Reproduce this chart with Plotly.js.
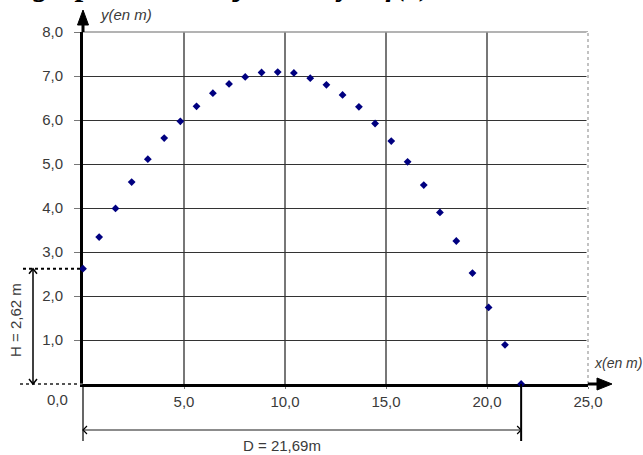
<!DOCTYPE html>
<html>
<head>
<meta charset="utf-8">
<script src="https://cdn.plot.ly/plotly-3.0.1.min.js"></script>
<style>html,body{margin:0;padding:0;background:#fff;}#chart{width:643px;height:455px;}</style>
</head>
<body>
<div id="chart"></div>
<script>
// Data
var xPos = [0, 0.80, 1.61, 2.41, 3.21, 4.02, 4.82, 5.62, 6.43, 7.23, 8.03, 8.84, 9.64, 10.44,
            11.25, 12.05, 12.85, 13.66, 14.46, 15.26, 16.07, 16.87, 17.67, 18.48, 19.28, 20.08, 20.89, 21.69];
var yPos = [2.62, 3.34, 3.99, 4.59, 5.11, 5.59, 5.97, 6.31, 6.61, 6.82, 6.98, 7.08, 7.09, 7.07,
            6.95, 6.80, 6.57, 6.30, 5.92, 5.52, 5.05, 4.52, 3.90, 3.25, 2.52, 1.74, 0.89, 0];
var xTicks = [5, 10, 15, 20, 25];
var yTicks = [1, 2, 3, 4, 5, 6, 7, 8];
var H = 2.62, D = 21.69;
var xMax = 25, yMax = 8;

// Geometry helpers (plot area: left 83, width 505, top 32, height 352)
var L = 83, W = 505, T = 32, HH = 352;
function PX(p) { return (p - L) / W; }
function PY(p) { return (T + HH - p) / HH; }
function DX(v) { return v / xMax; }
function DY(v) { return v / yMax; }

var hy = DY(H), dx = DX(D);
var shapes = [];
function line(x0, y0, x1, y1, color, width, dash, layer) {
  shapes.push({type: 'line', xref: 'paper', yref: 'paper', x0: x0, y0: y0, x1: x1, y1: y1,
    line: {color: color, width: width, dash: dash || 'solid'}, layer: layer || 'above'});
}
function path(d, color, width, fill) {
  shapes.push({type: 'path', xref: 'paper', yref: 'paper', path: d,
    line: {color: color, width: width}, fillcolor: fill || 'rgba(0,0,0,0)', layer: 'above'});
}
function P(x, y) { return x + ',' + y; }

// top border and right dashed border
line(0, 1, 1, 1, '#9a9a9a', 1.5);
line(1, 0, 1, 1, '#ffffff', 3);
line(1, 0, 1, 1, '#9a9a9a', 1.2, 'dot');

// x-axis extensions and arrow
line(PX(20), 0, 0, 0, '#555', 2, 'dot');
line(1, 0, PX(598), 0, '#000', 3);
path('M' + P(PX(597), PY(378)) + ' L' + P(PX(612), PY(384)) + ' L' + P(PX(597), PY(390)) + ' Z', '#000', 1, '#000');
// y-axis extension and arrow
line(0, 1, 0, PY(24), '#000', 3);
path('M' + P(PX(77.5), PY(25)) + ' L' + P(PX(83), PY(10)) + ' L' + P(PX(88.5), PY(25)) + ' Z', '#000', 1, '#000');

// H dimension
line(PX(23), hy, 0, hy, '#000', 2, 'dot');
line(PX(33), 0, PX(33), hy, '#000', 1.5);
path('M' + P(PX(29), hy - 5 / HH) + ' L' + P(PX(33), hy) + ' L' + P(PX(37), hy - 5 / HH), '#000', 1.5);
path('M' + P(PX(29), 5 / HH) + ' L' + P(PX(33), 0) + ' L' + P(PX(37), 5 / HH), '#000', 1.5);

// D dimension
line(0, PY(384), 0, PY(441), '#000', 1.2);
line(dx, PY(384), dx, PY(441), '#000', 2);
line(0, PY(430), dx, PY(430), '#666', 1.5);
path('M' + P(PX(87), PY(426)) + ' L' + P(0, PY(430)) + ' L' + P(PX(87), PY(434)), '#000', 1.2);
path('M' + P(dx - 4 / W, PY(426)) + ' L' + P(dx, PY(430)) + ' L' + P(dx - 4 / W, PY(434)), '#000', 1.2);

var txtFont = {family: 'Liberation Sans, Arial, sans-serif', size: 15, color: '#3a3a3a'};
var annotations = [
  {text: '<b><i>graphe de la trajectoire y = f(x)</i></b>', xref: 'paper', yref: 'paper',
   x: PX(32), y: PY(3), xanchor: 'left', yanchor: 'bottom', showarrow: false, borderpad: 0,
   font: {family: 'Liberation Serif, Times New Roman, serif', size: 31, color: '#000'}},
  {text: '<i>y(en m)</i>', xref: 'paper', yref: 'paper', x: PX(98), y: PY(14),
   xanchor: 'left', yanchor: 'middle', showarrow: false, font: txtFont},
  {text: '<i>x(en m)</i>', xref: 'paper', yref: 'paper', x: PX(592), y: PY(363),
   xanchor: 'left', yanchor: 'middle', showarrow: false,
   font: {family: txtFont.family, size: 14, color: txtFont.color}},
  {text: 'H = 2,62 m', xref: 'paper', yref: 'paper', x: PX(15), y: PY(320),
   xanchor: 'center', yanchor: 'middle', textangle: -90, showarrow: false, font: txtFont},
  {text: 'D = 21,69m', xref: 'paper', yref: 'paper', x: PX(282), y: PY(445),
   xanchor: 'center', yanchor: 'middle', showarrow: false, font: txtFont},
  {text: '0,0', xref: 'paper', yref: 'paper', x: PX(70), y: PY(399),
   xanchor: 'right', yanchor: 'middle', showarrow: false, font: txtFont}
];

var trace = {
  type: 'scatter', mode: 'markers', x: xPos, y: yPos,
  marker: {symbol: 'diamond', size: 6, color: '#000080'},
  cliponaxis: false, hoverinfo: 'none'
};

var layout = {
  width: 643, height: 455,
  margin: {l: L, r: 643 - L - W, t: T, b: 455 - T - HH, pad: 0},
  paper_bgcolor: '#fff', plot_bgcolor: '#fff',
  separators: ', ',
  showlegend: false,
  font: txtFont,
  xaxis: {range: [0, xMax], tickvals: xTicks, tickformat: '.1f', showgrid: true,
    gridcolor: '#777', gridwidth: 1.5, zeroline: false, showline: true, linecolor: '#000',
    linewidth: 3, ticks: 'outside', ticklen: 2, tickcolor: '#777', tickwidth: 1,
    tickfont: txtFont, layer: 'below traces', fixedrange: true},
  yaxis: {range: [0, yMax], tickvals: yTicks, tickformat: '.1f', showgrid: true,
    gridcolor: '#333', gridwidth: 1, zeroline: false, showline: true, linecolor: '#000',
    linewidth: 3, ticks: 'outside', ticklen: 6, tickcolor: '#777', tickwidth: 1,
    tickfont: txtFont, ticklabelstandoff: 8, layer: 'below traces', fixedrange: true},
  shapes: shapes,
  annotations: annotations
};

Plotly.newPlot('chart', [trace], layout, {staticPlot: true, displayModeBar: false});
</script>
</body>
</html>
